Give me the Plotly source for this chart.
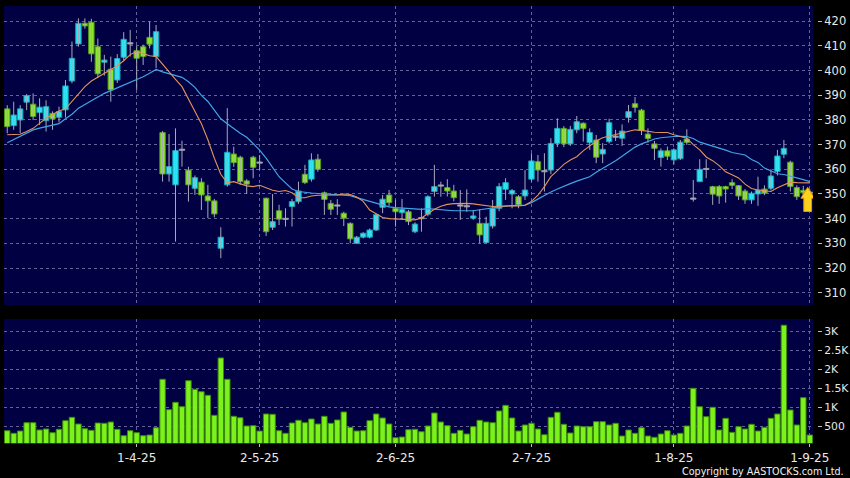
import plotly.graph_objects as go

# ---------------- data ----------------
tick_idx = [20, 39, 60, 81, 103, 124]
tick_labels = ["1-4-25", "2-5-25", "2-6-25", "2-7-25", "1-8-25", "1-9-25"]

opens = [
    384.5, 377.7, 380.0, 387.2, 386.4, 383.0, 379.7, 382.7, 381.1, 384.1,
    395.8, 410.8, 419.2, 419.6, 409.7, 403.4, 400.6, 396.2, 405.4, 410.8,
    408.1, 409.7, 413.5, 405.7, 374.9, 358.1, 353.7, 367.7, 359.7, 352.3,
    354.8, 349.2, 347.2, 328.0, 353.7, 366.2, 364.9, 355.3, 364.9, 362.5,
    348.3, 336.5, 343.2, 339.7, 344.9, 346.9, 358.0, 356.0, 364.1, 350.5,
    346.2, 345.1, 342.2, 338.1, 330.0, 332.5, 332.5, 335.4, 344.6, 349.6,
    344.2, 342.4, 342.8, 334.7, 340.0, 341.8, 351.0, 353.2, 352.6, 351.2,
    345.1, 344.8, 340.2, 338.1, 330.3, 337.0, 344.2, 351.9, 350.0, 348.9,
    349.2, 356.0, 363.1, 359.0, 359.7, 370.5, 376.6, 370.3, 376.0, 378.7,
    370.8, 371.9, 366.2, 371.2, 373.0, 372.6, 381.0, 386.6, 384.0, 374.3,
    370.3, 364.8, 367.5, 363.8, 364.3, 372.3, 347.9, 355.0, 359.9, 353.0,
    353.0, 353.0, 354.6, 353.4, 351.2, 347.6, 350.0, 352.0, 352.3, 359.1,
    366.1, 362.9, 352.6, 351.5, 350.5]

closes = [
    377.3, 382.0, 384.5, 389.9, 381.4, 385.2, 385.4, 380.4, 383.4, 393.8,
    405.0, 419.2, 418.1, 406.8, 398.7, 404.3, 392.2, 404.9, 412.7, 411.3,
    405.0, 405.7, 410.7, 415.8, 358.1, 361.1, 367.6, 368.1, 353.7, 356.6,
    349.6, 347.2, 341.9, 332.5, 366.9, 362.7, 355.0, 354.0, 360.8, 362.9,
    334.7, 338.8, 339.8, 340.0, 346.9, 351.2, 354.6, 363.8, 360.0, 347.8,
    343.8, 345.3, 340.2, 331.8, 332.5, 334.1, 335.4, 341.6, 347.9, 346.5,
    342.8, 343.8, 338.8, 337.8, 340.3, 348.9, 353.0, 353.5, 351.2, 348.5,
    345.3, 345.1, 341.1, 333.4, 338.1, 344.2, 353.0, 354.6, 351.4, 345.6,
    351.6, 363.4, 359.7, 359.3, 370.5, 376.6, 370.3, 376.2, 379.3, 376.6,
    374.9, 364.9, 368.1, 378.9, 373.4, 375.5, 383.4, 385.1, 375.7, 372.5,
    368.5, 367.5, 365.3, 367.9, 371.0, 370.9, 348.3, 360.0, 360.1, 349.9,
    349.2, 352.0, 353.5, 349.2, 347.6, 350.3, 351.6, 350.3, 357.3, 365.4,
    368.5, 353.0, 348.9, 350.5, 350.3]

highs = [
    386.0, 387.4, 386.0, 390.5, 390.8, 388.8, 388.0, 383.5, 385.4, 396.2,
    411.8, 421.2, 421.2, 421.0, 413.0, 406.4, 405.7, 406.7, 415.6, 416.5,
    410.0, 410.5, 419.9, 418.5, 375.5, 374.3, 376.6, 371.6, 361.0, 357.5,
    356.4, 353.7, 348.0, 336.5, 384.8, 369.2, 365.5, 356.0, 365.5, 365.8,
    348.5, 350.0, 345.6, 344.2, 348.0, 355.0, 361.8, 366.5, 366.2, 351.0,
    347.6, 347.9, 342.8, 338.5, 333.0, 334.5, 336.0, 342.0, 349.6, 351.6,
    347.6, 348.0, 343.5, 338.5, 344.2, 349.5, 361.8, 355.0, 356.0, 353.7,
    351.6, 351.9, 343.5, 343.8, 340.8, 347.6, 354.4, 356.4, 352.0, 349.5,
    359.7, 366.5, 365.8, 366.5, 372.6, 380.7, 377.5, 377.6, 381.6, 379.0,
    376.6, 373.9, 370.6, 380.5, 376.0, 378.2, 386.1, 389.3, 384.5, 376.6,
    371.5, 368.5, 369.2, 368.5, 371.9, 376.2, 355.7, 364.1, 364.1, 353.3,
    353.6, 353.3, 356.0, 353.6, 352.0, 351.0, 357.0, 353.5, 360.0, 367.9,
    371.9, 363.5, 353.5, 353.3, 352.0]

lows = [
    374.6, 376.0, 374.7, 384.0, 380.0, 378.0, 375.3, 376.0, 379.0, 381.0,
    394.9, 409.7, 417.0, 403.6, 397.0, 398.0, 387.4, 395.0, 404.0, 405.7,
    392.2, 402.3, 409.0, 401.0, 355.0, 355.0, 330.7, 361.1, 346.9, 349.6,
    343.5, 340.2, 340.5, 324.0, 353.0, 361.0, 353.7, 350.0, 356.4, 359.7,
    333.0, 335.4, 337.4, 336.8, 336.8, 346.0, 354.0, 355.0, 359.0, 341.5,
    341.5, 341.5, 337.0, 330.0, 329.8, 332.0, 332.0, 335.0, 342.2, 345.0,
    336.8, 339.5, 337.4, 334.1, 334.7, 341.0, 348.9, 348.9, 349.0, 347.0,
    339.5, 342.8, 339.5, 330.0, 330.0, 336.0, 343.0, 347.6, 344.2, 344.2,
    347.6, 355.0, 355.0, 351.0, 358.0, 369.0, 369.0, 369.5, 374.6, 371.2,
    367.9, 362.5, 362.5, 370.5, 371.5, 369.5, 378.9, 383.0, 373.9, 370.8,
    363.8, 361.1, 363.8, 362.0, 363.8, 369.9, 346.9, 355.0, 356.4, 345.6,
    346.0, 346.5, 352.0, 347.6, 346.0, 346.0, 345.2, 349.5, 351.5, 357.5,
    364.5, 351.0, 347.6, 348.5, 348.0]

volumes = [
    393, 325, 385, 603, 603, 412, 438, 341, 430, 656,
    744, 569, 446, 403, 595, 587, 621, 430, 262, 393,
    341, 262, 280, 472, 1741, 944, 1138, 1023, 1704, 1479,
    1416, 1321, 797, 2300, 1741, 771, 734, 517, 525, 385,
    831, 823, 393, 325, 595, 666, 603, 700, 569, 771,
    587, 674, 884, 482, 385, 393, 656, 831, 726, 569,
    210, 228, 420, 430, 367, 517, 857, 621, 525, 325,
    403, 307, 498, 666, 621, 603, 910, 1059, 726, 385,
    543, 587, 438, 288, 744, 876, 561, 333, 517, 498,
    498, 630, 630, 543, 587, 254, 412, 325, 472, 254,
    220, 307, 393, 280, 325, 517, 1505, 1023, 761, 1007,
    412, 718, 351, 498, 438, 561, 385, 482, 718, 831,
    3159, 936, 543, 1259, 280]

ma_short = [
    374.0, 374.0, 374.2, 375.3, 376.6, 378.6, 380.7, 382.2, 383.6, 384.5,
    387.5, 390.5, 393.5, 395.8, 397.3, 399.0, 400.3, 402.0, 404.0, 406.5,
    407.8, 407.0, 406.0, 405.7, 402.5, 399.5, 396.5, 393.5, 388.5, 383.0,
    378.5, 372.0, 364.5, 358.0, 354.5, 355.0, 354.0, 353.3, 353.0, 353.5,
    352.5, 351.5, 351.0, 351.4, 350.5, 348.5, 348.5, 349.2, 349.5, 349.5,
    349.3, 349.6, 350.0, 349.8, 348.8, 347.0, 343.5, 342.0, 340.5, 340.0,
    339.9, 339.8, 339.6, 339.5, 340.3, 342.0, 343.8, 345.0, 345.8, 346.1,
    346.2, 346.2, 346.0, 345.6, 345.3, 344.9, 345.0, 345.2, 345.2, 345.2,
    345.4, 347.0, 349.5, 353.0, 357.0, 359.5, 362.0, 363.8, 365.1, 367.5,
    369.5, 371.5, 372.8, 373.5, 374.2, 374.8, 375.5, 376.0, 375.8, 375.3,
    375.0, 374.9, 374.9, 374.0, 373.2, 372.6, 370.0, 367.9, 365.0, 363.5,
    361.5, 359.0, 357.8, 356.5, 354.0, 352.2, 351.6, 351.4, 351.0, 352.5,
    353.8, 354.8, 354.6, 354.5, 354.5]

ma_long = [
    370.8, 372.1, 373.5, 374.8, 376.0, 376.7, 377.3, 377.8, 378.5, 380.5,
    382.3, 384.8, 386.3, 387.6, 389.3, 390.8, 391.9, 393.0, 394.2, 395.3,
    396.2, 397.5, 398.9, 400.5, 399.5, 398.7, 398.0, 397.3, 395.5, 393.2,
    390.0, 387.5, 384.0, 380.5, 378.5, 376.5, 374.6, 373.0, 370.6, 367.8,
    364.5, 360.5, 357.0, 354.5, 352.0, 351.0, 350.6, 350.4, 350.2, 350.0,
    349.9, 349.7, 349.6, 349.3, 348.5, 347.8, 347.0, 346.3, 345.5, 344.8,
    344.5, 344.3, 344.2, 343.9, 343.8, 344.1, 343.8, 343.5, 343.2, 343.2,
    343.2, 343.2, 343.2, 343.6, 344.0, 344.5, 344.9, 345.1, 345.3, 345.4,
    345.5, 346.5, 348.0, 349.5, 350.8, 352.0, 353.2, 354.2, 355.2, 356.2,
    357.0, 358.8, 360.3, 361.7, 363.5, 365.3, 367.0, 369.0, 370.3, 371.3,
    372.3, 372.8, 373.2, 373.3, 373.4, 373.3, 372.5, 371.0, 370.2, 369.5,
    368.5, 367.8, 366.8, 366.2, 365.8, 364.0, 362.8, 360.5, 359.3, 358.2,
    357.9, 357.3, 356.6, 355.8, 355.0]

vol_tickvals = [500, 1000, 1500, 2000, 2500, 3000]
vol_ticktext = ["500", "1K", "1.5K", "2K", "2.5K", "3K"]

# ---------------- styling ----------------
BG = "#000042"
GRID = "#63639a"
UP_FILL, UP_LINE = "#2be6f6", "#139fb2"
DN_FILL, DN_LINE = "#8ee62a", "#4f9a14"
DOJI_FILL, DOJI_LINE = "#c8c8d0", "#9a9aa8"
FONT = "DejaVu Sans"

n = len(closes)
xs = list(range(n))

body_base, body_h, fills, lines = [], [], [], []
for o, c in zip(opens, closes):
    lo, hi = min(o, c), max(o, c)
    h = max(hi - lo, 0.45)
    body_base.append(lo)
    body_h.append(h)
    if c - o >= 0.6:
        fills.append(UP_FILL); lines.append(UP_LINE)
    elif o - c >= 0.6:
        fills.append(DN_FILL); lines.append(DN_LINE)
    else:
        fills.append(DOJI_FILL); lines.append(DOJI_LINE)

wx, wy = [], []
for i in xs:
    wx += [i, i, None]
    wy += [lows[i], highs[i], None]

fig = go.Figure()

# wicks
fig.add_trace(go.Scatter(x=wx, y=wy, mode="lines",
                         line=dict(color="#a9a9bc", width=1),
                         hoverinfo="skip", showlegend=False,
                         xaxis="x", yaxis="y"))
# bodies
fig.add_trace(go.Bar(x=xs, y=body_h, base=body_base, width=0.84,
                     marker=dict(color=fills, line=dict(color=lines, width=1)),
                     showlegend=False, xaxis="x", yaxis="y"))
# moving averages
fig.add_trace(go.Scatter(x=xs, y=ma_long, mode="lines",
                         line=dict(color="#3fa6e6", width=1.2),
                         showlegend=False, xaxis="x", yaxis="y"))
fig.add_trace(go.Scatter(x=xs, y=ma_short, mode="lines",
                         line=dict(color="#e4925a", width=1.1),
                         showlegend=False, xaxis="x", yaxis="y"))
# volume
fig.add_trace(go.Bar(x=xs, y=volumes, width=0.84,
                     marker=dict(color="#7cf21c", line=dict(color="#3c8a0a", width=1)),
                     showlegend=False, xaxis="x2", yaxis="y2"))

# last-price arrow anchored at the final bar / close
xc = (n - 1) - 0.32
c_last = closes[-1]
tip, hb, bot = c_last + 2.4, c_last - 2.0, c_last - 7.4
hw, sw = 1.05, 0.6
path = (f"M {xc},{tip} L {xc+hw},{hb} L {xc+sw},{hb} L {xc+sw},{bot} "
        f"L {xc-sw},{bot} L {xc-sw},{hb} L {xc-hw},{hb} Z")

W, H = 850, 478
x_dom = [4 / W, 813 / W]
grid_common = dict(showgrid=True, gridcolor=GRID, gridwidth=1, griddash="3px,3px",
                    zeroline=False, showline=False, automargin=False)

fig.update_layout(
    width=W, height=H,
    margin=dict(l=0, r=0, t=0, b=0, autoexpand=False),
    paper_bgcolor="#000000", plot_bgcolor=BG,
    barmode="overlay",
    font=dict(family=FONT, color="#e8e8e8"),
    xaxis=dict(domain=x_dom, range=[-0.5, n - 0.5], anchor="y",
               tickmode="array", tickvals=tick_idx, ticktext=tick_labels,
               showticklabels=False, ticks="", **grid_common),
    yaxis=dict(domain=[1 - 305 / H, 1 - 6 / H], range=[305.0, 426.2],
               side="right", anchor="free", position=817 / W,
               tick0=0, dtick=10, ticks="outside", ticklen=4, tickcolor="#bdbdbd",
               tickfont=dict(size=11.5, color="#e8e8e8", family=FONT),
               **grid_common),
    xaxis2=dict(domain=x_dom, range=[-0.5, n - 0.5], anchor="y2",
                tickmode="array", tickvals=tick_idx, ticktext=tick_labels,
                ticks="outside", ticklen=3, tickcolor="#bdbdbd",
                tickfont=dict(size=12, color="#e8e8e8", family=FONT),
                **grid_common),
    yaxis2=dict(domain=[1 - 443.3 / H, 1 - 319 / H], range=[63, 3322],
                side="right", anchor="free", position=817 / W,
                tickmode="array", tickvals=vol_tickvals, ticktext=vol_ticktext,
                ticks="outside", ticklen=4, tickcolor="#bdbdbd",
                tickfont=dict(size=10.8, color="#e8e8e8", family=FONT),
                **grid_common),
    shapes=[dict(type="path", path=path, xref="x", yref="y",
                 fillcolor="#ffd21e", line=dict(color="#e09a00", width=1),
                 layer="above")],
    annotations=[dict(text="Copyright by AASTOCKS.com Ltd.", xref="paper", yref="paper",
                      x=846 / W, y=(H - 471) / H, xanchor="right", yanchor="middle",
                      showarrow=False, font=dict(size=9.6, color="#f0f0f0", family=FONT))],
)

fig.write_html(
    "out.html",
    config={"displayModeBar": False},
    post_script="document.body.style.margin='0';document.body.style.padding='0';"
                "document.body.style.background='#000';document.body.style.overflow='hidden';",
)
